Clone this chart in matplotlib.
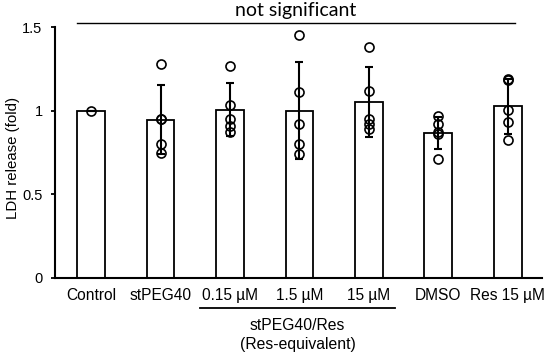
import matplotlib
matplotlib.use("Agg")
import matplotlib.pyplot as plt
import numpy as np

plt.rcParams['font.family'] = ['Liberation Sans', 'DejaVu Sans']

# data
labels = ["Control", "stPEG40", "0.15 µM", "1.5 µM", "15 µM", "DMSO", "Res 15 µM"]
means = [1.00, 0.946, 1.006, 1.00, 1.052, 0.865, 1.025]
sds = [0.0, 0.205, 0.16, 0.29, 0.207, 0.095, 0.165]
points = [
    [1.00],
    [1.28, 0.95, 0.95, 0.80, 0.75],
    [1.27, 1.036, 0.95, 0.91, 0.87],
    [1.45, 1.11, 0.92, 0.80, 0.74],
    [1.38, 1.12, 0.95, 0.92, 0.89],
    [0.97, 0.92, 0.87, 0.86, 0.71],
    [1.19, 1.185, 1.006, 0.93, 0.826],
]
yticks = [0, 0.5, 1, 1.5]
ytick_labels = ["0", "0.5", "1", "1.5"]

fig = plt.figure(figsize=(5.5, 3.57), dpi=100)
ax = fig.add_axes([0.1, 0.2213, 0.885, 0.703])

x = np.arange(len(labels))
ax.bar(x, means, width=0.4, color="white", edgecolor="black", linewidth=1.3, zorder=1)
ax.errorbar(x, means, yerr=sds, fmt="none", ecolor="black", elinewidth=1.5,
            capsize=3, capthick=1.5, zorder=2)
for i, pts in enumerate(points):
    ax.plot([x[i]] * len(pts), pts, linestyle="none", marker="o", markersize=6.5,
            markerfacecolor="none", markeredgecolor="black", markeredgewidth=1.2, zorder=3)

ax.set_xlim(-0.52, 6.49)
ax.set_ylim(0, 1.5)
ax.set_yticks(yticks)
ax.set_yticklabels(ytick_labels, fontsize=10.5)
ax.set_xticks(x)
ax.set_xticklabels(labels, fontsize=11.2)
ax.tick_params(axis="x", length=0, pad=7)
ax.tick_params(axis="y", length=3, width=1.3, pad=6)
ax.spines["top"].set_visible(False)
ax.spines["right"].set_visible(False)
ax.spines["left"].set_linewidth(1.5)
ax.spines["bottom"].set_linewidth(1.5)

# y label placed in figure coordinates
fig.text(13 / 550, 1 - 158 / 357, "LDH release (fold)", rotation=90,
         ha="center", va="center", fontsize=10.8)

# significance line
ax.plot([-0.2, 6.1], [1.527, 1.527], color="black", linewidth=1.0, clip_on=False)
ax.text(2.95, 1.55, "not significant", ha="center", va="bottom", fontsize=14,
        family=["Lato", "DejaVu Sans"])

# group bracket below the axis
fig.add_artist(plt.Line2D([200 / 550, 395 / 550], [1 - 308 / 357, 1 - 308 / 357],
                          color="black", linewidth=1.3))
fig.text(297.5 / 550, 1 - 325 / 357, "stPEG40/Res", ha="center", va="center", fontsize=11.3)
fig.text(298 / 550, 1 - 345 / 357, "(Res-equivalent)", ha="center", va="center", fontsize=11.3)

fig.savefig("out.png", dpi=100)
